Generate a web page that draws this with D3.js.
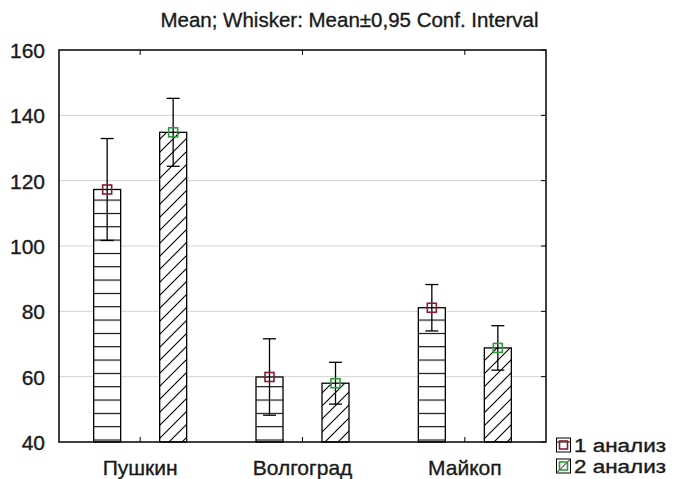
<!DOCTYPE html>
<html>
<head>
<meta charset="utf-8">
<script src="https://cdn.jsdelivr.net/npm/d3@7"></script>
<style>
  html, body { margin: 0; padding: 0; background: #fff; }
  svg { display: block; font-family: "Liberation Sans", Arial, sans-serif; }
  svg text { stroke: #1a1a1a; stroke-width: 0.35px; }
</style>
</head>
<body>
<svg id="chart" width="673" height="479"></svg>
<script>
// Categories (cities) and the two analysis series
const categories = ["Пушкин", "Волгоград", "Майкоп"];
const seriesNames = ["1 анализ", "2 анализ"];
// Means
const means1 = [117.3, 59.9, 81.1];
const means2 = [134.8, 58.0, 68.8];
// Half-width of 0.95 confidence interval
const ci1 = [15.6, 11.7, 7.1];
const ci2 = [10.4, 6.4, 6.8];
const yTicks = [40, 60, 80, 100, 120, 140, 160];
const titleText = "Mean; Whisker: Mean±0,95 Conf. Interval";

const svg = d3.select("#chart");
const m = { left: 59, right: 546, top: 50, bottom: 442 };

const x = d3.scaleBand().domain(categories).range([m.left, m.right]);
const y = d3.scaleLinear().domain([40, 160]).range([m.bottom, m.top]);
const offset = d3.scaleOrdinal().domain([0, 1]).range([-33, 33]);
const barW = 27;
const markerColors = ["#8b1c2c", "#2f9a3c"];
const textColor = "#1a1a1a";

// Hatch patterns
const defs = svg.append("defs");
const ph = defs.append("pattern").attr("id", "hatchH")
  .attr("patternUnits", "userSpaceOnUse").attr("width", 20).attr("height", 13.33)
  .attr("y", m.bottom - 2.5);
ph.append("rect").attr("width", 20).attr("height", 13.33).attr("fill", "#fff");
ph.append("line").attr("x1", 0).attr("x2", 20).attr("y1", 0.5).attr("y2", 0.5)
  .attr("stroke", "#000").attr("stroke-width", 1.2);

const pd = defs.append("pattern").attr("id", "hatchD")
  .attr("patternUnits", "userSpaceOnUse").attr("width", 13).attr("height", 13);
pd.append("rect").attr("width", 13).attr("height", 13).attr("fill", "#fff");
pd.append("path").attr("d", "M-1,1 L1,-1 M0,13 L13,0 M12,14 L14,12")
  .attr("stroke", "#000").attr("stroke-width", 1.1);

// Gridlines
svg.append("g").selectAll("line").data(yTicks.filter(d => d > 40 && d < 160)).join("line")
  .attr("x1", m.left).attr("x2", m.right)
  .attr("y1", d => y(d)).attr("y2", d => y(d))
  .attr("stroke", "#d4d4d4").attr("stroke-width", 1);

// Left axis labels
const yAxis = d3.axisLeft(y).tickValues(yTicks).tickSize(0).tickPadding(14);
const ya = svg.append("g").attr("transform", `translate(${m.left},0)`).call(yAxis);
ya.select(".domain").remove();
ya.selectAll("text").attr("font-size", 21).attr("fill", textColor).attr("dy", "0.36em")
  .attr("font-family", "Liberation Sans, Arial, sans-serif");

// Right inner ticks
svg.append("g").selectAll("line").data(yTicks).join("line")
  .attr("x1", m.right - 5).attr("x2", m.right)
  .attr("y1", d => y(d)).attr("y2", d => y(d))
  .attr("stroke", "#000");

// Bottom axis labels + inner ticks
const xAxis = d3.axisBottom(x).tickSize(0).tickPadding(0);
const xa = svg.append("g").attr("transform", `translate(0,${m.bottom})`).call(xAxis);
xa.select(".domain").remove();
xa.selectAll("text").attr("font-size", 21).attr("fill", textColor)
  .attr("dy", null).attr("y", 33)
  .attr("font-family", "Liberation Sans, Arial, sans-serif");
svg.append("g").selectAll("line").data(categories).join("line")
  .attr("x1", d => x(d) + x.bandwidth() / 2).attr("x2", d => x(d) + x.bandwidth() / 2)
  .attr("y1", m.bottom).attr("y2", m.bottom - 5).attr("stroke", "#000");
svg.append("g").selectAll("line").data(categories).join("line")
  .attr("x1", d => x(d) + x.bandwidth() / 2).attr("x2", d => x(d) + x.bandwidth() / 2)
  .attr("y1", m.top).attr("y2", m.top + 5).attr("stroke", "#000");

// Bars, whiskers and mean markers
const series = [
  { means: means1, ci: ci1, fill: "url(#hatchH)" },
  { means: means2, ci: ci2, fill: "url(#hatchD)" }
];
series.forEach((s, si) => {
  const g = svg.append("g");
  const data = categories.map((c, i) => ({ c, v: s.means[i], e: s.ci[i] }));
  const cx = d => x(d.c) + x.bandwidth() / 2 + offset(si);
  g.selectAll("rect").data(data).join("rect")
    .attr("x", d => cx(d) - barW / 2).attr("width", barW)
    .attr("y", d => y(d.v)).attr("height", d => m.bottom - y(d.v))
    .attr("fill", s.fill).attr("stroke", "#000").attr("stroke-width", 1.3);
  g.selectAll("line.w").data(data).join("line").attr("class", "w")
    .attr("x1", cx).attr("x2", cx)
    .attr("y1", d => y(d.v + d.e)).attr("y2", d => y(d.v - d.e))
    .attr("stroke", "#000").attr("stroke-width", 1.3);
  ["+", "-"].forEach(sign => {
    g.selectAll("line.c" + (sign === "+" ? "u" : "d")).data(data).join("line")
      .attr("class", "c" + (sign === "+" ? "u" : "d"))
      .attr("x1", d => cx(d) - 6.5).attr("x2", d => cx(d) + 6.5)
      .attr("y1", d => y(sign === "+" ? d.v + d.e : d.v - d.e))
      .attr("y2", d => y(sign === "+" ? d.v + d.e : d.v - d.e))
      .attr("stroke", "#000").attr("stroke-width", 1.3);
  });
  g.selectAll("rect.mk").data(data).join("rect").attr("class", "mk")
    .attr("x", d => cx(d) - 4.5).attr("y", d => y(d.v) - 4.5)
    .attr("width", 9).attr("height", 9)
    .attr("fill", "none").attr("stroke", markerColors[si]).attr("stroke-width", 1.6);
});

// Plot frame
svg.append("rect").attr("x", m.left).attr("y", m.top)
  .attr("width", m.right - m.left).attr("height", m.bottom - m.top)
  .attr("fill", "none").attr("stroke", "#000").attr("stroke-width", 1.5);

// Title
svg.append("text").attr("x", 349.5).attr("y", 27).attr("text-anchor", "middle")
  .attr("font-size", 20.5).attr("fill", textColor).text(titleText);

// Legend
const lg = svg.append("g");
seriesNames.forEach((name, i) => {
  const ly = 445 + i * 21;
  lg.append("rect").attr("x", 556.5).attr("y", ly - 7).attr("width", 14).attr("height", 14)
    .attr("fill", "#fff").attr("stroke", "#000").attr("stroke-width", 1);
  if (i === 0) {
    lg.append("line").attr("x1", 556.5).attr("x2", 570.5).attr("y1", ly - 3).attr("y2", ly - 3).attr("stroke", "#000");
  } else {
    lg.append("line").attr("x1", 557.5).attr("x2", 569.5).attr("y1", ly + 6).attr("y2", ly - 6).attr("stroke", "#000");
  }
  lg.append("rect").attr("x", 559.5).attr("y", ly - 4).attr("width", 8).attr("height", 8)
    .attr("fill", "none").attr("stroke", markerColors[i]).attr("stroke-width", 1.6);
  lg.append("text").attr("x", 574).attr("y", ly + 6.5).attr("font-size", 18)
    .attr("textLength", 92).attr("lengthAdjust", "spacingAndGlyphs")
    .attr("fill", textColor).text(name);
});
</script>
</body>
</html>
